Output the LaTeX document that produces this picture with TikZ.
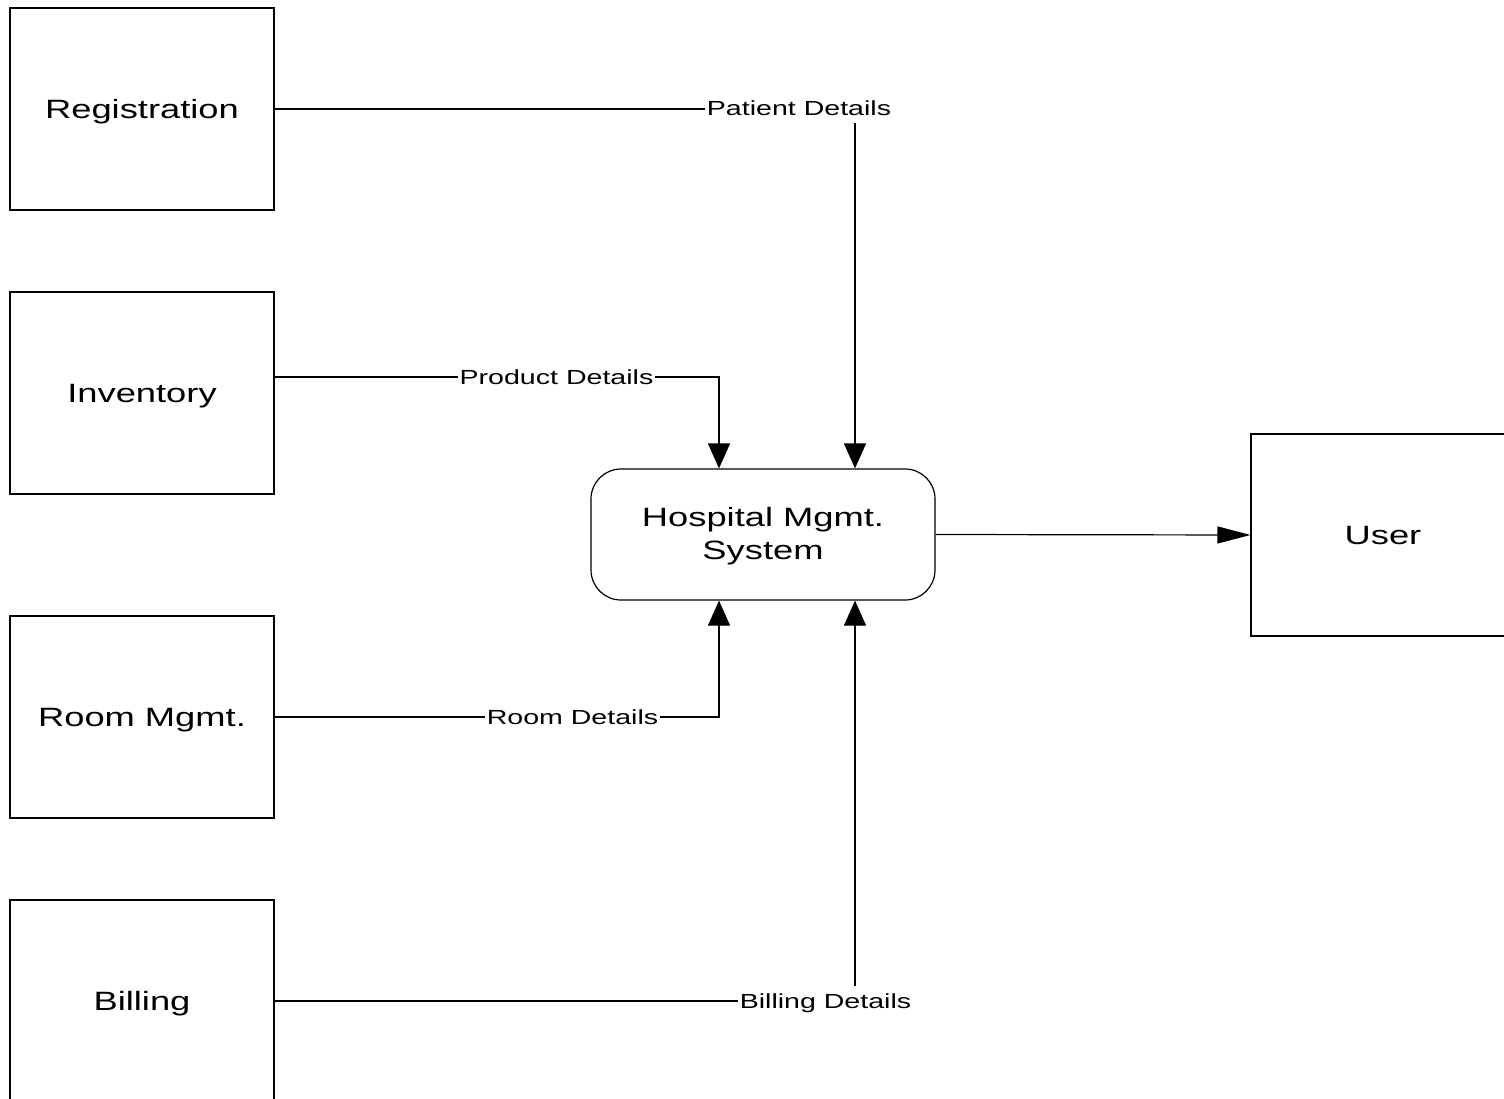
\documentclass[tikz,border=0pt]{standalone}
\usepackage{fontspec}
\setmainfont{Liberation Sans}[FakeStretch=1.37]
\newfontfamily\lblfont{Liberation Sans}[FakeStretch=1.4]
\usetikzlibrary{arrows.meta}
\begin{document}
\begin{tikzpicture}[x=1pt,y=-1pt,
  ent/.style={draw=black, line width=1.2pt, minimum width=264pt, minimum height=202pt, inner sep=0pt, text height=19pt, text depth=0pt, font=\fontsize{26.5}{33}\selectfont},
  proc/.style={draw=black, line width=1.2pt, rounded corners=30pt, minimum width=344pt, minimum height=131pt, inner sep=0pt, align=center, font=\fontsize{26.5}{33}\selectfont},
  flow/.style={line width=1.2pt},
  varr/.style={flow, -{Triangle[length=25pt,width=22pt]}},
  harr/.style={flow, -{Triangle[length=33pt,width=17pt]}},
  lbl/.style={fill=white, inner xsep=2pt, inner ysep=0pt, text height=14.6pt, text depth=0pt, minimum height=31pt, font=\lblfont\fontsize{20.4}{24}\selectfont}
]
\useasboundingbox (0,0) rectangle (1504,1099);
\begin{scope}
\clip (0,0) rectangle (1504,1099);
\node[ent] (reg) at (142,109) {Registration};
\node[ent] (inv) at (142,393) {Inventory};
\node[ent] (room) at (142,717) {Room Mgmt.};
\node[ent] (bill) at (142,1001) {Billing};
\node[ent] (user) at (1383,535) {User};
\node[proc] (hms) at (763,534.5) {};
\node[font=\fontsize{26.5}{33}\selectfont, align=center] (hmstext) at ([yshift=-1.5pt]hms.center) {Hospital Mgmt.\\System};

\draw[varr] (reg.east) -| ([xshift=92pt]hms.north);
\draw[varr] ([yshift=16pt]inv.east) -| ([xshift=-44pt]hms.north);
\draw[varr] (room.east) -| ([xshift=-44pt]hms.south);
\draw[varr] (bill.east) -| ([xshift=92pt]hms.south);
\draw[harr] (hms.east) -- (user.west);

\node[lbl] (lpat) at (799,108) {Patient Details};
\node[lbl] (lprod) at (556.5,377) {Product Details};
\node[lbl] (lroom) at (572.5,717) {Room Details};
\node[lbl] (lbill) at (825.5,1001) {Billing Details};
\end{scope}
\end{tikzpicture}
\end{document}
